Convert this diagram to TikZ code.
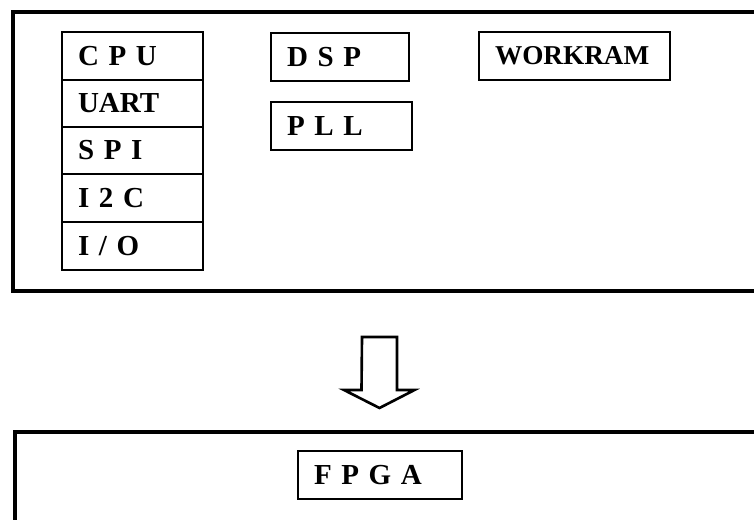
\documentclass[tikz,border=0pt]{standalone}
\usepackage{fontspec}
\setmainfont{Liberation Serif}
\usetikzlibrary{positioning}

\tikzset{
  blk/.style={draw, line width=1.1pt, minimum height=0.96cm, inner xsep=0.32cm, inner ysep=0pt,
    align=left, font=\fontsize{16.5}{19}\selectfont\bfseries},
  frame/.style={line width=2pt},
}

\begin{document}
\begin{tikzpicture}[x=0.02cm, y=-0.02cm]
\useasboundingbox (0,0) rectangle (754,520);
% upper frame (open to the right)
\draw[frame] (756,12) -- (13,12) -- (13,291) -- (756,291);
\foreach \y/\txt [count=\i] in {56/C P U, 103.5/UART, 150.5/S P I, 198/I 2 C, 246/{I / O}}{
  \node[blk, text width=2.18cm] (per\i) at (132.5,\y) {\txt};
}
\node[blk, text width=2.12cm] (dsp) at (340,57) {D S P};
\node[blk, text width=2.18cm] (pll) at (341.5,126) {P L L};
\node[blk, text width=3.18cm, font=\fontsize{15.5}{18}\selectfont\bfseries] (workram) at (574.5,56) {WORKRAM};
% hollow arrow
\coordinate (arrtop) at (379.5,337);
\coordinate (arrtip) at (379.5,408);
\draw[line width=1.5pt] (arrtop) ++(-17.5,0) -- ++(35,0) -- ++(0,53) -- ++(17.5,0)
  -- (arrtip) -- ++(-35.5,-18) -- ++(17.5,0) -- cycle;
% lower frame
\draw[frame] (15,522) -- (15,432) -- (756,432);
\node[blk, text width=2.64cm] (fpga) at (380,475) {F P G A};
\end{tikzpicture}
\end{document}
